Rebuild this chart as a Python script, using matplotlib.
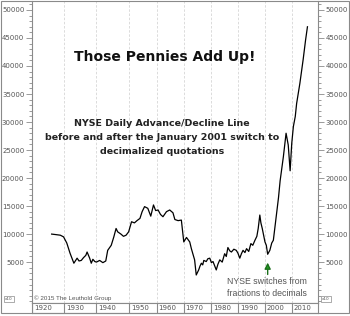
import numpy as np
import matplotlib.pyplot as plt
from matplotlib.patches import Rectangle

# NYSE advance/decline line
years = [1926.1, 1927.5, 1928.8, 1929.8, 1930.8, 1931.8, 1932.6, 1933.0, 1934.0, 1934.6,
         1935.3, 1936.0, 1936.7, 1937.1, 1937.9, 1938.4, 1938.9, 1939.5, 1940.0, 1941.0,
         1942.0, 1942.9, 1943.5, 1944.6, 1945.4, 1946.1, 1946.6, 1947.6, 1948.4, 1949.2,
         1950.0, 1950.9, 1951.8, 1952.7, 1953.8, 1954.6, 1955.5, 1956.7, 1957.8, 1958.8,
         1959.6, 1960.5, 1961.4, 1962.3, 1963.6, 1964.8, 1966.0, 1966.7, 1967.9, 1969.1,
         1970.0, 1971.0, 1972.2, 1972.8, 1974.0, 1974.6, 1975.5, 1976.0, 1976.5, 1977.0,
         1977.4, 1978.3, 1978.9, 1979.6, 1980.2, 1980.8, 1982.0, 1982.6, 1983.3, 1984.2,
         1985.1, 1985.7, 1986.3, 1987.0, 1987.6, 1988.5, 1989.4, 1990.0, 1990.7, 1991.3,
         1991.9, 1992.6, 1993.2, 1994.0, 1994.8, 1995.5, 1996.3, 1997.0, 1997.5, 1998.1,
         1998.5, 1999.0, 2000.0, 2000.5, 2001.0, 2001.8, 2002.5, 2003.1, 2004.3, 2005.0,
         2005.6, 2006.8, 2007.8, 2008.6, 2009.3, 2009.9, 2010.5, 2011.2, 2011.7, 2012.9,
         2014.1, 2015.0, 2015.7]
ad_line = [10000, 9900, 9800, 9500, 8400, 6600, 5400, 4800, 5700, 5200,
           5300, 5800, 6200, 6800, 5700, 4800, 5500, 5100, 5000, 5300,
           4900, 5200, 7100, 8000, 9500, 11000, 10400, 10000, 9600, 9800,
           10400, 12200, 12000, 12400, 12800, 14000, 14900, 14600, 13200, 15200,
           14200, 14300, 13500, 13100, 14000, 14300, 13800, 12600, 12400, 12500,
           8600, 9400, 8600, 7400, 5400, 2700, 3600, 4300, 4800, 4500,
           5300, 5100, 5600, 5700, 4900, 5100, 3600, 4600, 5400, 5000,
           6500, 6000, 7600, 7000, 6800, 7300, 7100, 6600, 5700, 6500,
           7100, 6700, 7400, 6900, 8300, 8000, 8900, 9600, 11000, 13400,
           12000, 11000, 8600, 8000, 6400, 7100, 8400, 8900, 13700, 16500,
           19500, 23800, 28000, 25900, 21300, 26200, 29200, 31000, 33300, 36900,
           41100, 44600, 47000]

decades = [1920, 1930, 1940, 1950, 1960, 1970, 1980, 1990, 2000, 2010]
y_ticks = [5000, 10000, 15000, 20000, 25000, 30000, 35000, 40000, 45000, 50000]


# x axis runs on trading days: Saturday sessions before 1952
def to_days(y):
    y = np.asarray(y, dtype=float)
    return np.where(y < 1952, 300 * (y - 1920), 9600 + 252 * (y - 1952))


def from_days(d):
    d = np.asarray(d, dtype=float)
    return np.where(d < 9600, 1920 + d / 300, 1952 + (d - 9600) / 252)


W, H = 350, 316
fig = plt.figure(figsize=(W / 100, H / 100), dpi=100)
gray = '#555555'
spine = '#8a8a8a'

ax = fig.add_axes([32 / W, 1 - 303 / H, 286 / W, 302 / H])
ax.set_xscale('function', functions=(to_days, from_days))
ax.plot(years, ad_line, color='black', lw=0.9)
ax.set_xlim(1920, 2019.6)
ax.set_ylim(-2300, 51600)

for d in decades[1:]:
    ax.axvline(d, color='#d6d6d6', lw=0.6, ls=(0, (3, 2)), zorder=0)

ax.set_xticks([])
ax.set_yticks(y_ticks)
ax.set_yticks(np.arange(-2000, 52000, 1000), minor=True)
ax.tick_params(axis='y', which='both', left=True, right=True, labelleft=True,
               labelright=True, colors=spine, labelcolor=gray, labelsize=5, width=0.6)
ax.tick_params(axis='y', which='major', length=4, pad=1.5)
ax.tick_params(axis='y', which='minor', length=2)
for s in ax.spines.values():
    s.set_color(spine)
    s.set_linewidth(0.8)
ax.spines['top'].set_visible(False)

# decade strip under the plot
sx = fig.add_axes([32 / W, 1 - 313 / H, 286 / W, 10 / H])
sx.set_xscale('function', functions=(to_days, from_days))
sx.set_xlim(1920, 2019.6)
sx.set_ylim(0, 1)
sx.set_xticks([])
sx.set_yticks([])
for s in sx.spines.values():
    s.set_color(spine)
    s.set_linewidth(0.8)
for d in decades:
    sx.axvline(d, color=spine, lw=0.8)
    sx.text(d + 0.7, 0.45, str(d), fontsize=5, color=gray, ha='left', va='center')

# outer frame
fig.patches.append(Rectangle((1 / W, 1 - 313 / H), 348 / W, 312 / H, transform=fig.transFigure,
                             fill=False, edgecolor=spine, lw=0.8))

fig.text(165 / W, 1 - 57 / H, 'Those Pennies Add Up!', fontsize=10, fontweight='bold',
         ha='center', va='center', color='#111111')
subtitle = ['NYSE Daily Advance/Decline Line',
            'before and after the January 2001 switch to',
            'decimalized quotations']
for i, line in enumerate(subtitle):
    fig.text(162 / W, 1 - (123 + 14 * i) / H, line, fontsize=6.8, fontweight='bold',
             ha='center', va='center', color='#222222')

fig.text(267 / W, 1 - 282 / H, 'NYSE switches from', fontsize=6.3, color=gray,
         ha='center', va='center', family='Liberation Sans')
fig.text(267 / W, 1 - 293 / H, 'fractions to decimals', fontsize=6.3, color=gray,
         ha='center', va='center', family='Liberation Sans')
ax.annotate('', xy=(2001, 5400), xytext=(2001, 2300),
            arrowprops=dict(arrowstyle='-|>', mutation_scale=9, lw=1,
                            facecolor='#22a022', edgecolor='#1a6e1a'))

fig.text(34 / W, 1 - 298 / H, '\u00a9 2015 The Leuthold Group', fontsize=4.5,
         color=gray, ha='left', va='center', family='Liberation Sans')
for xp in (9, 326):
    fig.text(xp / W, 1 - 299 / H, 'x10', fontsize=3, color=gray, ha='center', va='center',
             bbox=dict(boxstyle='square,pad=0.3', fc='white', ec=spine, lw=0.5))

fig.savefig('out.png', dpi=100)
